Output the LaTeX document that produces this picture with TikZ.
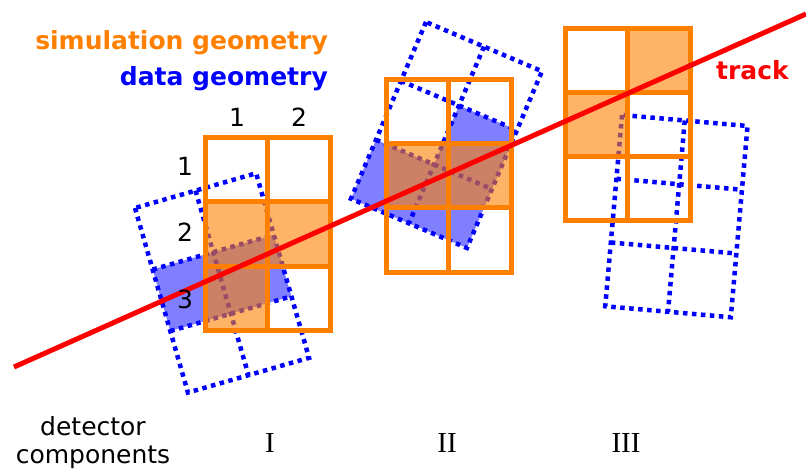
\documentclass[tikz,border=0pt]{standalone}
\usepackage{fontspec}
\setsansfont{DejaVu Sans}
\newfontfamily\compfont{Liberation Serif}
\definecolor{simorange}{RGB}{255,128,0}
\tikzset{
  simgrid/.style={draw=simorange, line width=5pt},
  simcell/.style={fill=simorange, fill opacity=0.6},
  datagrid/.style={draw=blue, line width=4.5pt, dash pattern=on 4.5pt off 4.5pt},
  datacell/.style={fill=blue, fill opacity=0.5},
  trackline/.style={draw=red, line width=5pt},
  geomtxt/.style={inner sep=0pt, font=\sffamily\bfseries\fontsize{25}{30}\selectfont},
  numtxt/.style={inner sep=0pt, font=\sffamily\fontsize{25}{28}\selectfont},
  comptxt/.style={inner sep=0pt, font=\compfont\fontsize{29}{32}\selectfont}
}
\begin{document}
\begin{tikzpicture}[x=1pt,y=1pt]
\useasboundingbox (0,0) rectangle (806,472);

% data geometry, component I
\begin{scope}[shift={(135,264)},rotate=16]
\fill[datacell] (0,-64) rectangle (126,-128);
\draw[datagrid] (0,0) rectangle (126,-192);
\draw[datagrid] (63,0) -- (63,-192);
\foreach \y in {-64,-128} \draw[datagrid] (0,\y) -- (126,\y);
\end{scope}

% data geometry, component II
\begin{scope}[shift={(426,450)},rotate=-23]
\fill[datacell] (63,-64) rectangle (126,-128);
\fill[datacell] (0,-128) rectangle (126,-192);
\draw[datagrid] (0,0) rectangle (126,-192);
\draw[datagrid] (63,0) -- (63,-192);
\foreach \y in {-64,-128} \draw[datagrid] (0,\y) -- (126,\y);
\end{scope}

% data geometry, component III
\begin{scope}[shift={(622,357)},rotate=-5]
\draw[datagrid] (0,0) rectangle (126,-192);
\draw[datagrid] (63,0) -- (63,-192);
\foreach \y in {-64,-128} \draw[datagrid] (0,\y) -- (126,\y);
\end{scope}

% simulation geometry
\begin{scope}[shift={(205,334)}]
\fill[simcell] (0,-64) rectangle (125,-128);
\fill[simcell] (0,-128) rectangle (62.5,-192);
\draw[simgrid] (0,0) rectangle (125,-192);
\draw[simgrid] (62.5,0) -- (62.5,-192);
\foreach \y in {-64,-128} \draw[simgrid] (0,\y) -- (125,\y);
\end{scope}

\begin{scope}[shift={(386,392)}]
\fill[simcell] (0,-64) rectangle (125,-128);
\draw[simgrid] (0,0) rectangle (125,-192);
\draw[simgrid] (62.5,0) -- (62.5,-192);
\foreach \y in {-64,-128} \draw[simgrid] (0,\y) -- (125,\y);
\end{scope}

\begin{scope}[shift={(565,443)}]
\fill[simcell] (62.5,0) rectangle (125,-64);
\fill[simcell] (0,-64) rectangle (62.5,-128);
\draw[simgrid] (0,0) rectangle (125,-192);
\draw[simgrid] (62.5,0) -- (62.5,-192);
\foreach \y in {-64,-128} \draw[simgrid] (0,\y) -- (125,\y);
\end{scope}

% track
\coordinate (trackstart) at (14,105);
\coordinate (trackend) at (806,458);
\draw[trackline] (trackstart) -- (trackend);

\node[geomtxt, text=simorange, anchor=base east] (simtxt) at (328,422) {simulation geometry};
\node[geomtxt, text=blue, anchor=base east] (datatxt) at (328,386) {data geometry};
\node[geomtxt, text=red, anchor=base west] (tracktxt) at (716,392) {track};

\node[numtxt] (col1) at (237,354.5) {1};
\node[numtxt] (col2) at (299,354.5) {2};
\node[numtxt] (row1) at (185,306) {1};
\node[numtxt] (row2) at (185,239.5) {2};
\node[numtxt] (row3) at (185,173) {3};

\node[numtxt, align=center] (dettxt) at (93,29) {detector\\components};
\node[comptxt] (compI) at (270,29) {I};
\node[comptxt] (compII) at (447,29) {II};
\node[comptxt] (compIII) at (626,29) {III};
\end{tikzpicture}
\end{document}
